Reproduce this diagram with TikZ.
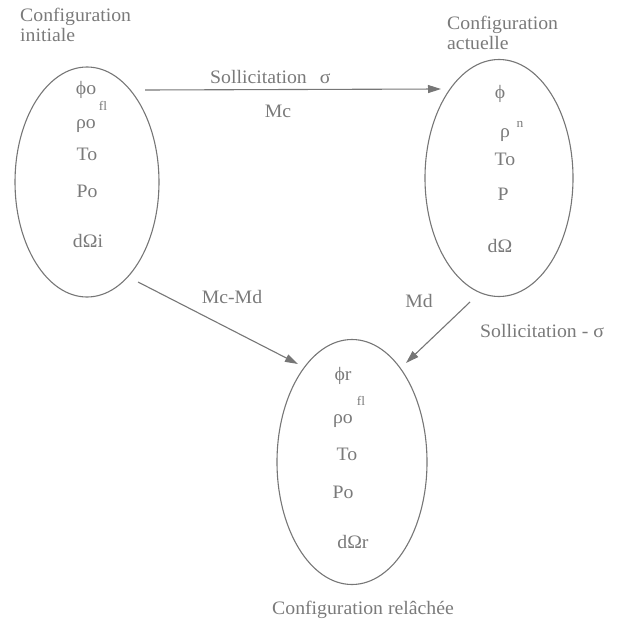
\documentclass[tikz,border=0pt]{standalone}
\usepackage{fontspec}
\setmainfont{Liberation Serif}[FakeStretch=1.04]
\usetikzlibrary{shapes.geometric,arrows.meta}
\definecolor{linecol}{RGB}{118,118,118}
\definecolor{txtcol}{RGB}{122,122,122}
\begin{document}
\begin{tikzpicture}[x=1pt,y=-1pt,
  conf/.style={draw=linecol,line width=1.1pt,ellipse,inner sep=0pt},
  lbl/.style={text=txtcol,inner sep=0pt,anchor=base,font=\fontsize{19}{20}\selectfont},
  ttl/.style={lbl,anchor=base west},
  sup/.style={text=txtcol,inner sep=0pt,anchor=base,font=\fontsize{13}{13}\selectfont},
  arr/.style={draw=linecol,line width=1.1pt,-{Triangle[length=13pt,width=8pt,fill=linecol]}}]
\useasboundingbox (0,0) rectangle (617,626);
% ellipses
\node[conf,minimum width=144pt,minimum height=230pt] (L) at (87,182) {};
\node[conf,minimum width=148pt,minimum height=237pt] (R) at (499,178) {};
\node[conf,minimum width=150pt,minimum height=245pt] (B) at (352,462) {};
% titles
\node[ttl] (tL1) at (20,22) {Configuration};
\node[ttl] (tL2) at (20,42) {initiale};
\node[ttl] (tR1) at (447,30) {Configuration};
\node[ttl] (tR2) at (447,50) {actuelle};
\node[ttl] (tB) at (272,614) {Configuration relâchée};
% left contents
\node[lbl] (l1) at (86,94) {ϕo};
\node[lbl] (l2) at (86,128) {ρo};
\node[sup] (l2s) at (103,110) {fl};
\node[lbl] (l3) at (87,160) {To};
\node[lbl] (l4) at (87,197) {Po};
\node[lbl] (l5) at (88,247) {dΩi};
% right contents
\node[lbl] (r1) at (500,98) {ϕ};
\node[lbl] (r2) at (505,137) {ρ};
\node[sup] (r2s) at (520,127) {n};
\node[lbl] (r3) at (505,165) {To};
\node[lbl] (r4) at (503,200) {P};
\node[lbl] (r5) at (500,252) {dΩ};
% bottom contents
\node[lbl] (b1) at (343,380) {ϕr};
\node[lbl] (b2) at (343,423) {ρo};
\node[sup] (b2s) at (361,405) {fl};
\node[lbl] (b3) at (347,460) {To};
\node[lbl] (b4) at (343,498) {Po};
\node[lbl] (b5) at (353,548) {dΩr};
% connector ends
\coordinate (a1s) at (145,90);
\coordinate (a1e) at (441,89);
\coordinate (a2s) at (138,282);
\coordinate (a2e) at (298,364);
\coordinate (a3s) at (470,302);
\coordinate (a3e) at (406,363);
\draw[arr] (a1s) -- (a1e);
\draw[arr] (a2s) -- (a2e);
\draw[arr] (a3s) -- (a3e);
% connector labels
\node[ttl] (s1) at (210,84) {Sollicitation\hspace{13pt}σ};
\node[lbl] (m1) at (278,117) {Mc};
\node[lbl] (m2) at (232,303) {Mc-Md};
\node[lbl] (m3) at (419,307) {Md};
\node[ttl] (s2) at (480,337) {Sollicitation - σ};
\end{tikzpicture}
\end{document}
